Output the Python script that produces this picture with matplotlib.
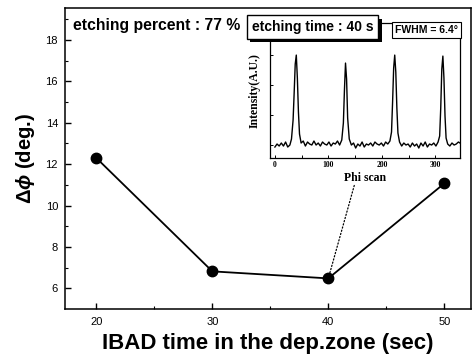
import matplotlib
matplotlib.use('Agg')
import matplotlib.pyplot as plt
import matplotlib.patheffects as pe

plt.rcParams['font.family'] = 'Liberation Sans'
plt.rcParams['mathtext.fontset'] = 'custom'
plt.rcParams['mathtext.rm'] = 'Liberation Sans:bold'
plt.rcParams['mathtext.it'] = 'Liberation Sans:italic:bold'

# main series
ibad_time = [20, 30, 40, 50]
delta_phi = [12.3, 6.82, 6.48, 11.07]
x_ticks = [20, 30, 40, 50]
y_ticks = [6, 8, 10, 12, 14, 16, 18]

# inset phi scan
phi = [0, 4, 8, 12, 16, 20, 24, 28, 31, 34, 36, 38, 40, 42, 44, 46, 49,
       53, 57, 61, 65, 69, 73, 77, 81, 85, 89, 93, 97, 101, 105, 109, 113,
       117, 121, 125, 128, 130, 132, 134, 136, 139, 143, 147, 151, 155,
       159, 163, 167, 171, 175, 179, 183, 187, 191, 195, 199, 203, 207,
       211, 215, 218, 220, 222, 224, 226, 228, 230, 233, 237, 241, 245,
       249, 253, 257, 261, 265, 269, 273, 277, 281, 285, 289, 293, 297,
       301, 305, 308, 310, 312, 314, 316, 318, 320, 323, 327, 331, 335,
       339, 343, 346]
intensity = [1.1, 1.4, 1.2, 1.5, 1.2, 1.6, 1.1, 1.3, 1.9, 3.8, 6.5, 9.4,
             10.3, 8.0, 4.6, 2.4, 1.5, 1.7, 1.2, 1.6, 1.4, 1.3, 1.7, 1.3,
             1.5, 1.2, 1.6, 1.4, 1.3, 1.6, 1.2, 1.5, 1.4, 1.7, 1.3, 1.8,
             3.5, 6.8, 9.5, 7.9, 4.0, 1.9, 1.3, 1.5, 1.0, 1.4, 1.2, 1.6,
             1.1, 1.4, 1.3, 1.5, 1.2, 1.6, 1.4, 1.3, 1.5, 1.2, 1.6, 1.4,
             1.7, 2.6, 5.6, 9.0, 10.3, 8.6, 5.0, 2.5, 1.6, 1.2, 1.5, 1.3,
             1.4, 1.1, 1.5, 1.2, 1.4, 1.0, 1.5, 1.2, 1.6, 1.1, 1.4, 1.3,
             1.5, 1.2, 1.6, 2.2, 5.0, 8.9, 10.2, 8.0, 4.2, 2.0, 1.4, 1.2,
             1.5, 1.3, 1.4, 1.6, 1.5]
phi_ticks = [0, 100, 200, 300]

fig = plt.figure(figsize=(4.73, 3.61), dpi=100)
ax = fig.add_axes([0.1374, 0.144, 0.8584, 0.834])

ax.plot(ibad_time, delta_phi, '-o', color='black', lw=1.3, ms=7.5)
ax.set_xlim(17.3, 52.3)
ax.set_ylim(5.0, 19.55)
ax.set_xticks(x_ticks)
ax.set_xticks([25, 35, 45], minor=True)
ax.set_yticks(y_ticks)
ax.set_yticks([7, 9, 11, 13, 15, 17, 19], minor=True)
ax.tick_params(which='major', direction='in', length=4, width=1, labelsize=8)
ax.tick_params(which='minor', direction='in', length=2.5, width=0.8)
ax.tick_params(axis='y', pad=5)
ax.tick_params(axis='x', pad=6)
for s in ax.spines.values():
    s.set_linewidth(1.1)

ax.set_xlabel('IBAD time in the dep.zone (sec)', fontsize=16,
              fontweight='bold', labelpad=4)
ax.set_ylabel(r'$\Delta\phi$ (deg.)', fontsize=14.5, fontweight='bold',
              labelpad=6)

ax.text(0.019, 0.968, 'etching percent : 77 %', transform=ax.transAxes,
        fontsize=11.3, fontweight='bold', ha='left', va='top')

# dotted pointer from the 40 s point to the inset
ax.annotate('', xy=(40, 6.48), xytext=(42.3, 11.1),
            arrowprops=dict(arrowstyle='-', ls=':', lw=0.9, color='black'))

# inset
ins = fig.add_axes([0.571, 0.5623, 0.4015, 0.3737])
ins.plot(phi, intensity, color='black', lw=1.0)
ins.set_xlim(-9, 346)
ins.set_ylim(0, 13.5)
ins.set_xticks(phi_ticks)
ins.set_xticks([50, 150, 250], minor=True)
ins.set_yticks([1.3, 4.3, 7.3, 10.3])
ins.set_yticklabels([])
ins.tick_params(which='both', direction='in', length=2.5, width=0.7,
                labelsize=5.5)
ins.tick_params(axis='x', pad=2)
for lab in ins.get_xticklabels():
    lab.set_family('Liberation Serif')
    lab.set_fontweight('bold')
for s in ins.spines.values():
    s.set_linewidth(0.9)
ins.set_xlabel('Phi scan', family='Liberation Serif', fontweight='bold',
               fontsize=8.5, labelpad=2)
ins.set_ylabel('Intensity(A.U.)', family='Liberation Serif',
               fontweight='bold', fontsize=8.5, labelpad=3)

ins.text(0.99, 0.985, 'FWHM = 6.4°', transform=ins.transAxes, fontsize=7.5,
         fontweight='bold', ha='right', va='top',
         bbox=dict(boxstyle='square,pad=0.3', fc='white', ec='black', lw=0.8))

# label box with drop shadow
t = fig.text(0.532, 0.925, 'etching time : 40 s', fontsize=10,
             fontweight='bold', ha='left', va='center', color='black',
             bbox=dict(boxstyle='square,pad=0.35', fc='white', ec='black',
                       lw=1))
t.get_bbox_patch().set_path_effects([
    pe.SimplePatchShadow(offset=(2.5, -2.5), shadow_rgbFace='black', alpha=1),
    pe.Normal()])

fig.savefig('out.png', dpi=100)
